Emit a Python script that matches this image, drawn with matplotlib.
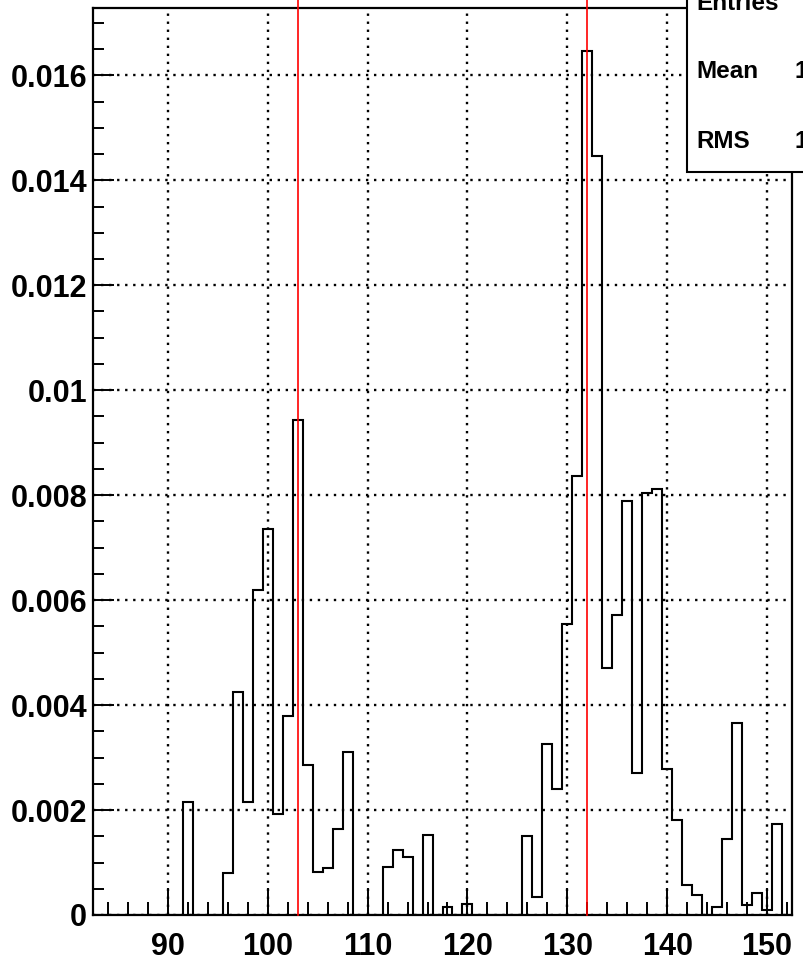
import numpy as np
import matplotlib
matplotlib.use("Agg")
import matplotlib.pyplot as plt
from matplotlib.ticker import MultipleLocator, FixedLocator, FuncFormatter
from matplotlib.patches import Rectangle

# ---- data ----
bin_low = 82.5
bin_width = 1.0
values = [
    0, 0, 0, 0, 0, 0, 0, 0, 0,            # 83-91
    0.00215,                               # 92
    0, 0, 0,                               # 93-95
    0.0008, 0.00425, 0.00215, 0.0062, 0.00735,   # 96-100
    0.00192, 0.0038, 0.00943, 0.00286, 0.000825, # 101-105
    0.00089, 0.00163, 0.00311,             # 106-108
    0, 0, 0,                               # 109-111
    0.00091, 0.00123, 0.0011, 0, 0.00152,  # 112-116
    0, 0.00015, 0, 0.00021,                # 117-120
    0, 0, 0, 0, 0,                         # 121-125
    0.0015, 0.00035, 0.00326, 0.00241, 0.00554,  # 126-130
    0.00837, 0.01646, 0.01446, 0.00471, 0.00571, # 131-135
    0.00789, 0.00271, 0.00805, 0.00812, 0.00279, # 136-140
    0.00181, 0.00057, 0.00038, 0, 0.00016,       # 141-145
    0.00144, 0.00366, 0.00019, 0.00041, 0.0001,  # 146-150
    0.00173, 0,                            # 151-152
]
red_lines = [103, 132]
x_major_ticks = [90, 100, 110, 120, 130, 140, 150]
y_major_ticks = [0, 0.002, 0.004, 0.006, 0.008, 0.01, 0.012, 0.014, 0.016]
stat_names = ["Entries", "Mean", "RMS"]
stat_values = ["", "1", "1"]

edges = bin_low + bin_width * np.arange(len(values) + 1)
ymax = 1.05 * max(values)

W, H = 804, 964
fig = plt.figure(figsize=(W / 100, H / 100), dpi=100)
ax = fig.add_axes([93 / W, 49 / H, 699 / W, 907 / H])

font = dict(family=["Liberation Sans", "DejaVu Sans"], weight="bold")

ax.stairs(values, edges, color="black", linewidth=1.5, baseline=0, zorder=3)

for xr in red_lines:
    ax.axvline(xr, ymin=0, ymax=1.03, color="red", linewidth=1.2,
               clip_on=False, zorder=4)

ax.set_xlim(edges[0], edges[-1])
ax.set_ylim(0, ymax)

ax.xaxis.set_major_locator(FixedLocator(x_major_ticks))
ax.xaxis.set_minor_locator(MultipleLocator(2))
ax.yaxis.set_major_locator(FixedLocator(y_major_ticks))
ax.yaxis.set_minor_locator(MultipleLocator(0.0005))
ax.yaxis.set_major_formatter(FuncFormatter(lambda v, p: "{:g}".format(round(v, 6))))
ax.xaxis.set_major_formatter(FuncFormatter(lambda v, p: "{:g}".format(v)))

ax.tick_params(axis="x", which="major", direction="in", length=19.4, width=1.4, pad=12)
ax.tick_params(axis="x", which="minor", direction="in", length=9.7, width=1.4)
ax.tick_params(axis="y", which="major", direction="in", length=15.1, width=1.4, pad=4.3)
ax.tick_params(axis="y", which="minor", direction="in", length=7.6, width=1.4)
for lab in ax.get_xticklabels() + ax.get_yticklabels():
    lab.set_fontfamily(font["family"])
    lab.set_fontweight("bold")
    lab.set_fontsize(22)

for s in ax.spines.values():
    s.set_linewidth(1.6)
    s.set_color("black")

ax.grid(True, which="major", color="black", linewidth=1.7,
        linestyle=(0, (1, 2.4)))
ax.set_axisbelow(True)

# stats box
box = Rectangle((687 / W, 1 - 172 / H), 0.3, 0.3, transform=fig.transFigure,
                facecolor="white", edgecolor="black", linewidth=1.5,
                clip_on=False, zorder=5)
fig.add_artist(box)
row_y = [3, 72, 141]
for name, val, yy in zip(stat_names, stat_values, row_y):
    fig.text(696 / W, 1 - yy / H, name, ha="left", va="center",
             fontsize=17.5, zorder=6, **font)
    if val:
        fig.text(795 / W, 1 - yy / H, val, ha="left", va="center",
                 fontsize=17.5, zorder=6, **font)

fig.savefig("out.png", dpi=100)
